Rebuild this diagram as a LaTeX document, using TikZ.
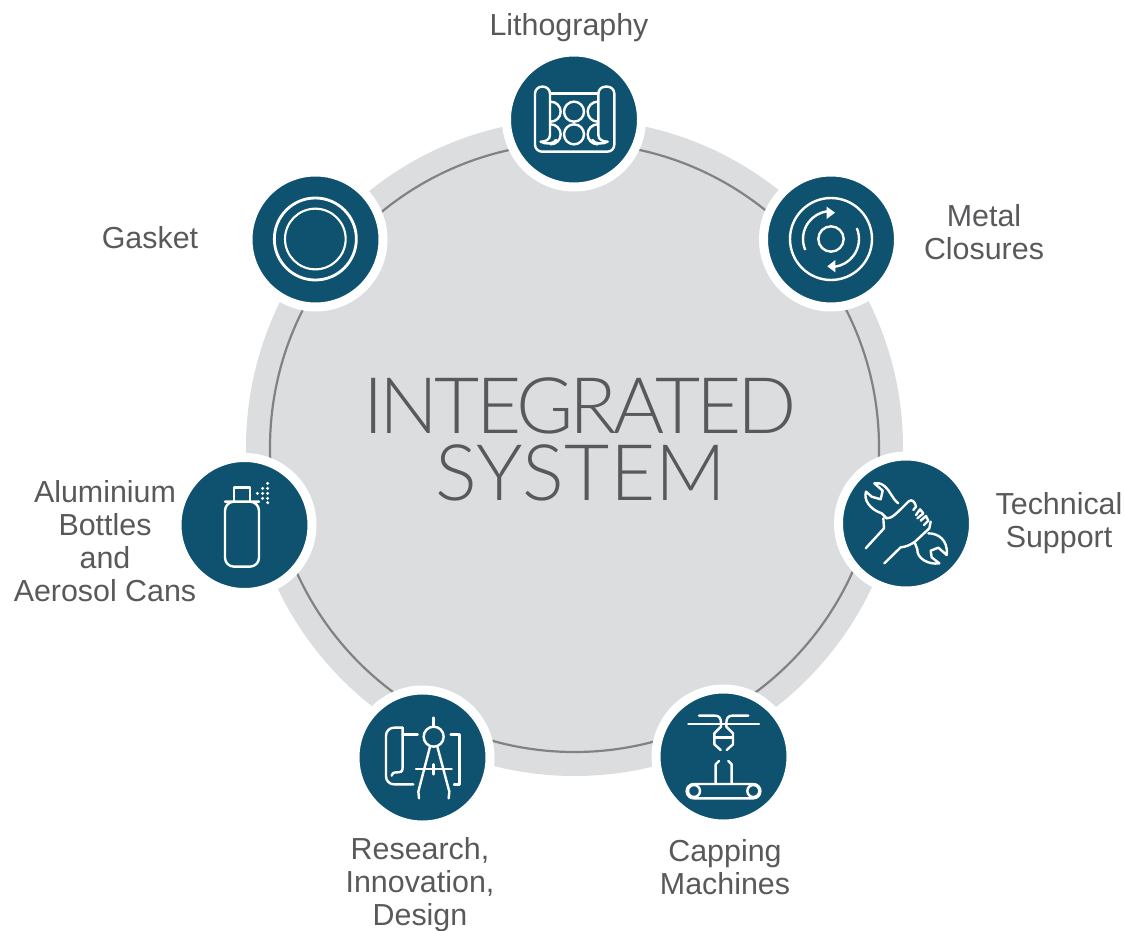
\documentclass[tikz,border=0pt]{standalone}
\usepackage{fontspec}
\setmainfont{Liberation Sans}
\newfontfamily\titlefont{Lato Light}[LetterSpace=-4.9]
\newfontfamily\titlefontb{Lato Light}[LetterSpace=0.7]
\definecolor{teal1}{HTML}{0F5270}
\definecolor{band}{HTML}{DCDDDF}
\definecolor{ringc}{HTML}{808285}
\definecolor{txt}{HTML}{58595B}
\tikzset{
  hub/.style={circle,fill=teal1,draw=white,line width=9pt,minimum size=135pt,inner sep=0pt},
  lab/.style={text=txt,align=center,inner sep=0pt,font=\fontsize{30.4}{33}\selectfont},
  ttl/.style={text=txt,inner sep=0pt},
  ic/.style={draw=white,line width=2.4pt,line cap=round,line join=round},
  icon/.style={shift={#1},x=0.33333pt,y=-0.33333pt}
}
\begin{document}
\begin{tikzpicture}[x=1pt,y=-1pt]
\useasboundingbox (0,0) rectangle (1124,931);
\node[circle,fill=band,minimum size=657pt,inner sep=0pt] (disc) at (574.5,447.5) {};
\node[circle,draw=ringc,line width=2.2pt,minimum size=609pt,inner sep=0pt] (ring) at (574.5,447.5) {};
\node[hub] (litho) at (574,119.5) {};
\node[hub] (metal) at (831,239.5) {};
\node[hub] (tech) at (906,523.5) {};
\node[hub] (capp) at (723.5,756.5) {};
\node[hub] (rese) at (422.5,757.5) {};
\node[hub] (alum) at (244.5,525) {};
\node[hub] (gask) at (315.5,239.5) {};
% labels
\node[lab] (l1) at (569,27.5) {Lithography};
\node[lab] (l2) at (984,232.5) {Metal\\Closures};
\node[lab] (l3) at (1059,523.5) {Technical\\Support};
\node[lab] (l4) at (725,867) {Capping\\Machines};
\node[lab] (l5) at (420,885) {Research,\\Innovation,\\Design};
\node[lab] (l6) at (105,541.5) {Aluminium\\Bottles\\and\\Aerosol Cans};
\node[lab] (l7) at (150,237.5) {Gasket};
\node[ttl,font=\titlefont\fontsize{78}{78}\selectfont] (t1) at (580,406) {INTEGRATED};
\node[ttl,font=\titlefontb\fontsize{78}{78}\selectfont] (t2) at (581,473) {SYSTEM};
% litho icon
\begin{scope}[icon={(500,45)}]
\draw[ic,rounded corners=7pt] (150,270) -- (150,125) -- (105,125) -- (105,320) -- (343,320) -- (343,125) -- (295,125) -- (295,270);
\draw[ic] (150,145) -- (295,145);
\draw[ic] (150,270) .. controls (150,285) and (135,290) .. (122,290) .. controls (135,298) and (160,298) .. (168,285);
\draw[ic] (295,270) .. controls (295,285) and (310,290) .. (323,290) .. controls (310,298) and (285,298) .. (277,285);
\foreach \y in {200,268}{
  \draw[ic] (222,\y) circle[radius=30];
  \draw[ic] (152,\y-30) arc[start angle=-90,end angle=90,radius=30];
  \draw[ic] (293,\y-30) arc[start angle=-90,end angle=-270,radius=30];
}
\end{scope}
% metal closures icon
\begin{scope}[icon={(760,165)}]
\draw[ic] (213,222) circle[radius=123];
\draw[ic] (213,222) circle[radius=38];
\draw[ic,line cap=butt] (213,222) ++(-203:84) arc[start angle=-203,end angle=-97,radius=84];
\fill[white] (200,125) -- (225,143) -- (200,162) -- cycle;
\draw[ic,line cap=butt] (213,222) ++(-23:84) arc[start angle=-23,end angle=83,radius=84];
\fill[white] (226,285) -- (202,304) -- (226,322) -- cycle;
\end{scope}
% technical support icon
\begin{scope}[icon={(830,450)}]
\draw[ic] (205,160) .. controls (185,145) and (180,120) .. (163,108) .. controls (153,100) and (143,98) .. (133,100) -- (158,122) -- (152,148) -- (125,140) -- (108,125) .. controls (100,150) and (120,178) .. (155,190) -- (170,205) .. controls (185,205) and (195,195) .. (235,155) .. controls (245,145) and (255,155) .. (258,170) -- (250,180);
\draw[ic] (160,205) -- (162,235) -- (107,295);
\draw[ic] (258,195) -- (270,178) -- (280,190) -- (262,205);
\draw[ic] (272,212) -- (288,198) -- (295,212) -- (282,225);
\draw[ic] (302,215) -- (298,235) -- (255,275) .. controls (240,285) and (230,290) .. (212,292) -- (163,340);
\draw[ic] (295,250) .. controls (325,250) and (355,270) .. (350,315) -- (325,293) -- (302,302) -- (305,322) -- (328,340) .. controls (295,345) and (260,325) .. (262,298) -- (255,280);
\end{scope}
% capping machines icon
\begin{scope}[icon={(650,685)}]
\draw[ic] (115,117) -- (327,117);
\draw[ic] (147,92) -- (195,92) .. controls (208,92) and (213,100) .. (213,115) -- (213,125) -- (193,145) -- (193,178) -- (212,195);
\draw[ic] (295,92) -- (247,92) .. controls (234,92) and (229,100) .. (229,115) -- (229,125) -- (249,145) -- (249,178) -- (230,195);
\draw[ic] (195,158) -- (247,158);
\draw[ic] (197,295) -- (197,238) -- (207,228);
\draw[ic] (245,295) -- (245,238) -- (235,228);
\draw[ic,rounded corners=7pt] (110,297) rectangle (331,340);
\draw[ic] (132,318) circle[radius=18];
\draw[ic] (310,318) circle[radius=18];
\end{scope}
% research icon
\begin{scope}[icon={(350,685)}]
\draw[ic] (251,155) circle[radius=30];
\draw[ic] (251,98) -- (251,125);
\draw[ic] (240,185) -- (205,320) -- (207,340);
\draw[ic] (262,185) -- (298,320) -- (296,340);
\draw[ic] (198,252) -- (305,252);
\draw[ic] (251,238) -- (251,268);
\draw[ic,rounded corners=8pt] (158,128) -- (108,128) -- (108,298) -- (190,298);
\draw[ic] (158,128) -- (158,248) .. controls (158,262) and (150,262) .. (140,262) .. controls (130,262) and (125,266) .. (125,272);
\draw[ic] (158,148) -- (203,148);
\draw[ic] (302,148) -- (328,148) -- (328,298) -- (312,298);
\end{scope}
% aluminium icon
\begin{scope}[icon={(170,450)}]
\draw[ic,rounded corners=9pt] (192,155) -- (165,155) -- (165,350) -- (267,350) -- (267,155) -- (240,155) -- cycle;
\draw[ic] (192,155) -- (192,112) -- (240,112) -- (240,155);
\foreach \x/\y in {293/100,293/115,293/130,293/145,293/158,278/115,278/130,278/145,262/130}
  \fill[white] (\x,\y) circle[radius=5];
\end{scope}
% gasket icon
\begin{scope}[icon={(240,165)}]
\draw[ic,line width=2.8pt] (226,222) circle[radius=123];
\draw[ic,line width=2.1pt] (226,222) circle[radius=91];
\end{scope}
\end{tikzpicture}
\end{document}
